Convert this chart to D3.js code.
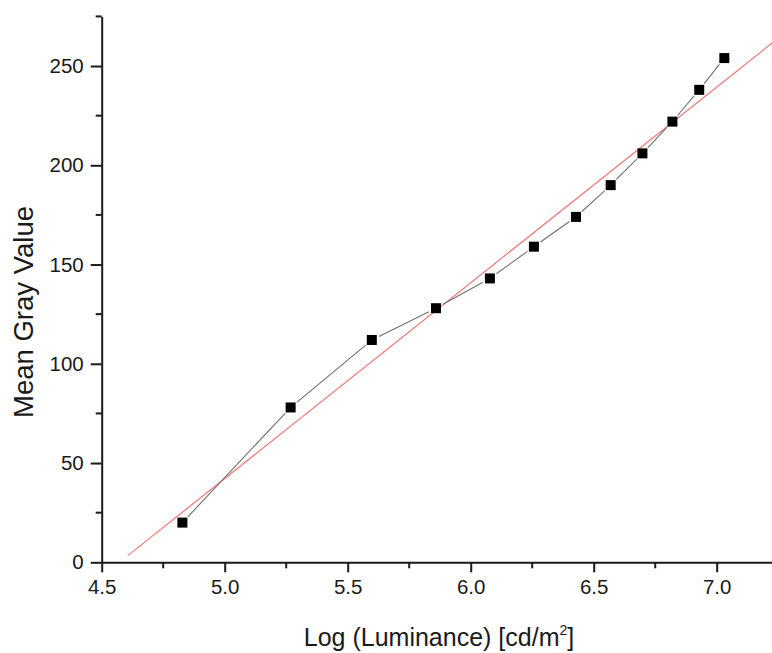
<!DOCTYPE html>
<html lang="en">
<head>
    <meta charset="UTF-8">
    <title>Mean Gray Value vs Log Luminance</title>
    <script type="text/javascript" src="https://cdn.jsdelivr.net/npm/d3@7/dist/d3.min.js"></script>
    <style>
        body { margin: 0; background: #fff; }
        text { font-family: "Liberation Sans", Arial, sans-serif; fill: #1a1a1a; }
    </style>
</head>
<body>
<script type="text/javascript">
    // measured points
    let logLum = [4.828, 5.268, 5.598, 5.859, 6.078, 6.257, 6.428, 6.569, 6.698, 6.820, 6.929, 7.031];
    let grayVal = [20, 78, 112, 128, 143, 159, 174, 190, 206, 222, 238, 254];
    // linear fit y = a + b*x
    let fitX = [4.606, 7.3];
    let fitA = -450.8, fitB = 98.6;
    let xTicks = [4.5, 5.0, 5.5, 6.0, 6.5, 7.0];
    let xMinor = [4.75, 5.25, 5.75, 6.25, 6.75, 7.25];
    let yTicks = [0, 50, 100, 150, 200, 250];
    let yMinor = [25, 75, 125, 175, 225, 275];

    let width = 772, height = 653;
    let svg = d3.select('body').append('svg')
        .attr('width', width)
        .attr('height', height);

    let x = d3.scaleLinear().domain([4.5, 7.3]).range([101.7, 101.7 + 2.8 * 246]);
    let y = d3.scaleLinear().domain([0, 275]).range([562.3, 16.4]);

    // fit line (red)
    svg.append('line')
        .attr('x1', x(fitX[0])).attr('y1', y(fitA + fitB * fitX[0]))
        .attr('x2', x(fitX[1])).attr('y2', y(fitA + fitB * fitX[1]))
        .attr('stroke', '#f07878')
        .attr('stroke-width', 1.2);

    // connecting segments, with small gaps at the markers
    let pts = logLum.map((v, i) => [x(v), y(grayVal[i])]);
    let gap = 8;
    for (let i = 0; i < pts.length - 1; i++) {
        let [x0, y0] = pts[i], [x1, y1] = pts[i + 1];
        let len = Math.hypot(x1 - x0, y1 - y0);
        let ux = (x1 - x0) / len, uy = (y1 - y0) / len;
        svg.append('line')
            .attr('x1', x0 + ux * gap).attr('y1', y0 + uy * gap)
            .attr('x2', x1 - ux * gap).attr('y2', y1 - uy * gap)
            .attr('stroke', '#707070')
            .attr('stroke-width', 1.1);
    }

    // markers
    let size = 10;
    svg.selectAll('rect.pt')
        .data(logLum)
        .enter()
        .append('rect')
        .attr('class', 'pt')
        .attr('x', (d) => x(d) - size / 2)
        .attr('y', (d, i) => y(grayVal[i]) - size / 2)
        .attr('width', size)
        .attr('height', size)
        .attr('fill', '#000');

    // axes
    let xAxis = d3.axisBottom(x).tickValues(xTicks).tickFormat(d3.format('.1f'))
        .tickSizeInner(10).tickSizeOuter(0).tickPadding(4);
    let gx = svg.append('g').attr('transform', 'translate(0,' + y(0) + ')').call(xAxis);
    gx.selectAll('.tick text').attr('font-size', 20.5).attr('dy', '0.85em');
    gx.selectAll('.tick line').attr('stroke-width', 2).attr('stroke', '#1a1a1a');
    gx.select('.domain').attr('stroke-width', 2).attr('stroke', '#1a1a1a');
    gx.selectAll('.minor')
        .data(xMinor)
        .enter()
        .append('line')
        .attr('class', 'minor')
        .attr('x1', (d) => x(d)).attr('x2', (d) => x(d))
        .attr('y1', 0).attr('y2', 6)
        .attr('stroke', '#1a1a1a').attr('stroke-width', 2);

    let yAxis = d3.axisLeft(y).tickValues(yTicks)
        .tickSizeInner(11).tickSizeOuter(0).tickPadding(7);
    let gy = svg.append('g').attr('transform', 'translate(' + x(4.5) + ',0)').call(yAxis);
    gy.selectAll('.tick text').attr('font-size', 20.5);
    gy.selectAll('.tick line').attr('stroke-width', 2).attr('stroke', '#1a1a1a');
    gy.select('.domain').attr('stroke-width', 2).attr('stroke', '#1a1a1a');
    gy.selectAll('.minor')
        .data(yMinor)
        .enter()
        .append('line')
        .attr('class', 'minor')
        .attr('x1', -6).attr('x2', 0)
        .attr('y1', (d) => y(d)).attr('y2', (d) => y(d))
        .attr('stroke', '#1a1a1a').attr('stroke-width', 2);

    // axis titles
    let xt = svg.append('text')
        .attr('x', 439).attr('y', 646)
        .attr('text-anchor', 'middle')
        .attr('font-size', 25);
    xt.append('tspan').text('Log (Luminance) [cd/m');
    xt.append('tspan').attr('font-size', 14).attr('dy', -11).text('2');
    xt.append('tspan').attr('dy', 11).text(']');

    svg.append('text')
        .attr('transform', 'translate(33,312) rotate(-90)')
        .attr('text-anchor', 'middle')
        .attr('font-size', 27.5)
        .text('Mean Gray Value');
</script>
</body>
</html>
